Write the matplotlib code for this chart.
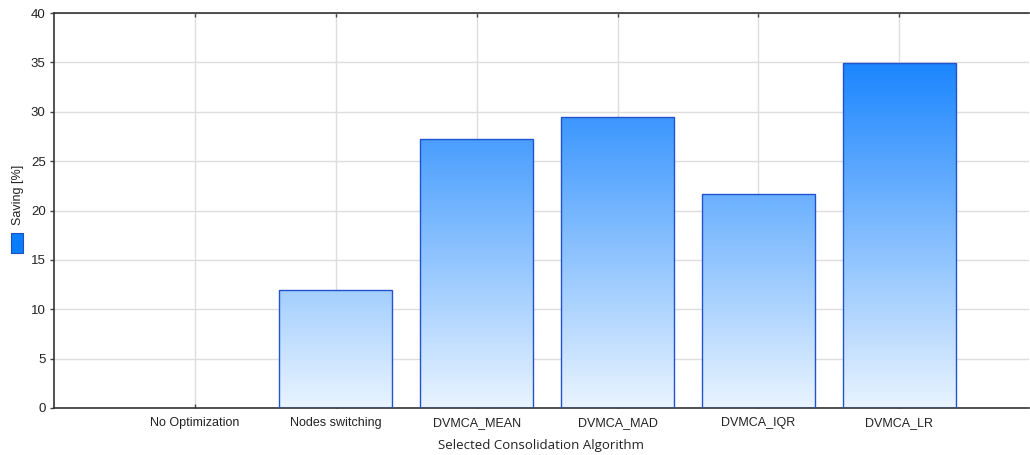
import numpy as np
import matplotlib
matplotlib.use("Agg")
import matplotlib.pyplot as plt
from matplotlib.patches import Rectangle
from matplotlib.colors import LinearSegmentedColormap

categories = ["No Optimization", "Nodes switching", "DVMCA_MEAN",
              "DVMCA_MAD", "DVMCA_IQR", "DVMCA_LR"]
saving = [0.0, 12.0, 27.2, 29.45, 21.7, 34.9]
y_ticks = [0, 5, 10, 15, 20, 25, 30, 35, 40]

plt.rcParams["font.family"] = ["Liberation Sans", "DejaVu Sans"]

fig = plt.figure(figsize=(10.3, 4.55), dpi=100)
ax = fig.add_axes([54 / 1030, 1 - 408 / 455, 975 / 1030, 395 / 455])

x = np.arange(len(categories))

# vertical gradient tied to the value scale: pale at 0, saturated blue near 35
cmap = LinearSegmentedColormap.from_list("save", ["#e9f4fe", "#1c86ff"])
top_val = 35.0
width = 0.8
for xi, v in zip(x, saving):
    if v <= 0:
        continue
    left = xi - width / 2
    grad = np.linspace(0, v / top_val, 256).reshape(-1, 1)
    img = ax.imshow(grad, extent=(left, left + width, 0, v),
                    origin="lower", cmap=cmap, vmin=0, vmax=1,
                    aspect="auto", zorder=2, interpolation="bilinear")
    rect = Rectangle((left, 0), width, v, facecolor="none",
                     edgecolor="#2152cf", linewidth=1.0, zorder=3)
    ax.add_patch(rect)
    img.set_clip_path(rect)

ax.set_aspect("auto")
ax.set_xlim(-1.0, 5.92)
ax.set_ylim(0, 40)

ax.tick_params(axis="x", direction="in", length=3, width=1, color="#444444",
               pad=13, top=True)
ax.tick_params(axis="y", direction="out", length=3, width=1, color="#444444", pad=3)
ax.set_xticks(x)
ax.set_xticklabels(categories, fontsize=9, color="#222222", va="baseline")
ax.set_yticks(y_ticks)
ax.set_yticklabels([str(t) for t in y_ticks], fontsize=9.5, color="#222222")

ax.grid(True, color="#dddddd", linewidth=1.0, zorder=0)
ax.set_axisbelow(True)
for side in ["left", "bottom", "top"]:
    ax.spines[side].set_color("#333333")
    ax.spines[side].set_linewidth(1.2)
ax.spines["right"].set_visible(False)

ax.set_xlabel("Selected Consolidation Algorithm", fontsize=9.5,
              family=["Open Sans", "DejaVu Sans"], color="#222222")
ax.xaxis.set_label_coords(0.5, -(446 - 408) / 395, transform=ax.transAxes)
ax.xaxis.label.set_verticalalignment("center")

# series key drawn beside the value axis
fig.text(18 / 1030, 1 - 195 / 455, "Saving [%]", rotation=90, ha="center",
         va="center", fontsize=9, color="#222222")
fig.patches.append(Rectangle((11 / 1030, 1 - 253 / 455), 12 / 1030, 20 / 455,
                             transform=fig.transFigure, facecolor="#0a7dfd",
                             edgecolor="#1f4fb8", linewidth=0.8))

fig.savefig("out.png", dpi=100)
